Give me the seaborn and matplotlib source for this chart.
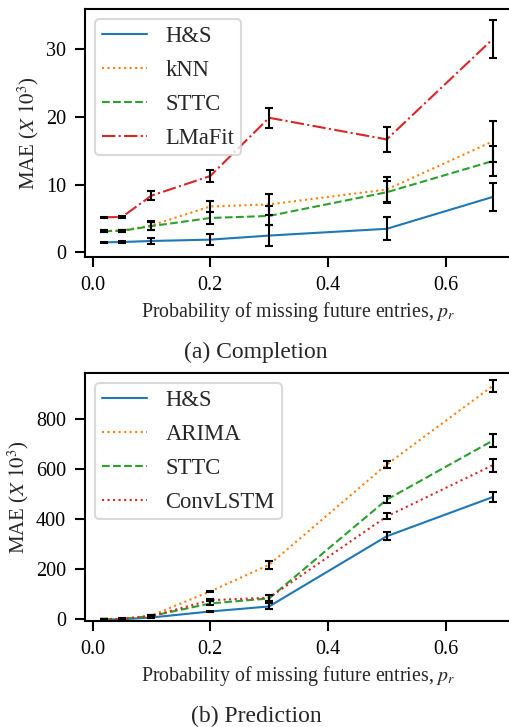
import numpy as np
import pandas as pd
import matplotlib
matplotlib.use("Agg")
import matplotlib.pyplot as plt
import seaborn as sns

# probability of missing future entries
p_r = [0.02, 0.05, 0.1, 0.2, 0.3, 0.5, 0.68]

# (a) completion, MAE x 10^3
comp_hs = [1.5, 1.55, 1.7, 1.9, 2.5, 3.5, 8.2]
comp_hs_err = [0.1, 0.1, 0.5, 0.85, 1.5, 1.7, 2.1]
comp_knn = [3.2, 3.25, 4.0, 6.8, 7.1, 9.3, 16.4]
comp_knn_err = [0.1, 0.1, 0.7, 0.8, 1.5, 1.8, 3.0]
comp_sttc = [3.15, 3.2, 3.9, 5.1, 5.4, 8.9, 13.5]
comp_sttc_err = [0.1, 0.1, 0.6, 0.9, 1.4, 1.6, 2.2]
comp_lmafit = [5.2, 5.25, 8.4, 11.3, 19.9, 16.7, 31.5]
comp_lmafit_err = [0.1, 0.1, 0.7, 0.9, 1.5, 1.9, 2.8]

# (b) prediction, MAE x 10^3
pred_hs = [0.5, 1.0, 8, 32, 52, 332, 488]
pred_hs_err = [1, 1, 2, 3, 12, 15, 20]
pred_arima = [2, 3, 16, 112, 218, 618, 931]
pred_arima_err = [1, 1, 2, 3, 15, 15, 25]
pred_sttc = [1, 2, 14, 64, 84, 478, 713]
pred_sttc_err = [1, 1, 2, 8, 12, 15, 25]
pred_convlstm = [1, 2, 13, 77, 87, 411, 615]
pred_convlstm_err = [1, 1, 2, 3, 12, 12, 25]

tab10 = sns.color_palette("tab10")
DASHES = {"solid": "", "dotted": (1, 1.65), "dashed": (3.7, 1.6), "dashdot": (6.4, 1.6, 1, 1.6)}

sns.set_style("ticks")
plt.rcParams["font.family"] = ["Liberation Serif", "DejaVu Serif"]
plt.rcParams["mathtext.fontset"] = "stix"
plt.rcParams["axes.linewidth"] = 1.5
plt.rcParams["xtick.major.width"] = 1.5
plt.rcParams["ytick.major.width"] = 1.5
plt.rcParams["xtick.major.size"] = 7
plt.rcParams["ytick.major.size"] = 7
plt.rcParams["xtick.major.pad"] = 6.5
plt.rcParams["ytick.major.pad"] = 6.5
plt.rcParams["axes.edgecolor"] = "black"
plt.rcParams["xtick.color"] = "black"
plt.rcParams["ytick.color"] = "black"


def panel(ax, series, styles, colors):
    rows = []
    for name, (vals, _) in series.items():
        for x, v in zip(p_r, vals):
            rows.append({"p": x, "mae": v, "method": name})
    df = pd.DataFrame(rows)
    names = list(series.keys())
    sns.lineplot(
        df, x="p", y="mae", hue="method", style="method",
        hue_order=names, style_order=names,
        palette=dict(zip(names, colors)),
        dashes={n: DASHES[s] for n, s in zip(names, styles)},
        errorbar=None, lw=1.5, ax=ax
    )
    for name, (vals, err) in series.items():
        ax.errorbar(p_r, vals, yerr=err, fmt="none", ecolor="black",
                    elinewidth=1.5, capsize=2.7, capthick=1.5, zorder=5)
    sns.move_legend(ax, "upper left", title=None, fontsize=16.3,
                    frameon=True, borderpad=0.3, labelspacing=0.57,
                    handletextpad=0.8, borderaxespad=0.45)
    frame = ax.get_legend().get_frame()
    frame.set_linewidth(1.5)
    frame.set_edgecolor("0.82")
    ax.set_xlabel("Probability of missing future entries, $p_r$", fontsize=14.3)
    ax.set_ylabel(r"MAE ($X\ 10^3$)", fontsize=15)
    ax.tick_params(labelsize=14.5)
    ax.set_xticks([0.0, 0.2, 0.4, 0.6])
    for s in ax.spines.values():
        s.set_visible(True)


fig = plt.figure(figsize=(5.1, 7.27), dpi=100)
ax1 = fig.add_axes([85 / 510, 1 - 257 / 727, 427 / 510, 248 / 727])
ax2 = fig.add_axes([85 / 510, 1 - 621 / 727, 427 / 510, 248 / 727])

panel(ax1, {
    "H&S": (comp_hs, comp_hs_err),
    "kNN": (comp_knn, comp_knn_err),
    "STTC": (comp_sttc, comp_sttc_err),
    "LMaFit": (comp_lmafit, comp_lmafit_err),
}, ["solid", "dotted", "dashed", "dashdot"], [tab10[0], tab10[1], tab10[2], tab10[3]])
ax1.set_yticks([0, 10, 20, 30])

panel(ax2, {
    "H&S": (pred_hs, pred_hs_err),
    "ARIMA": (pred_arima, pred_arima_err),
    "STTC": (pred_sttc, pred_sttc_err),
    "ConvLSTM": (pred_convlstm, pred_convlstm_err),
}, ["solid", "dotted", "dashed", "dotted"], [tab10[0], tab10[1], tab10[2], tab10[3]])
ax2.set_ylim(-6, 983)
ax2.set_yticks([0, 200, 400, 600, 800])

fig.text(256 / 510, 1 - 352 / 727, "(a) Completion", ha="center", va="center", fontsize=17)
fig.text(256 / 510, 1 - 716 / 727, "(b) Prediction", ha="center", va="center", fontsize=17)

fig.savefig("out.png", dpi=100)
